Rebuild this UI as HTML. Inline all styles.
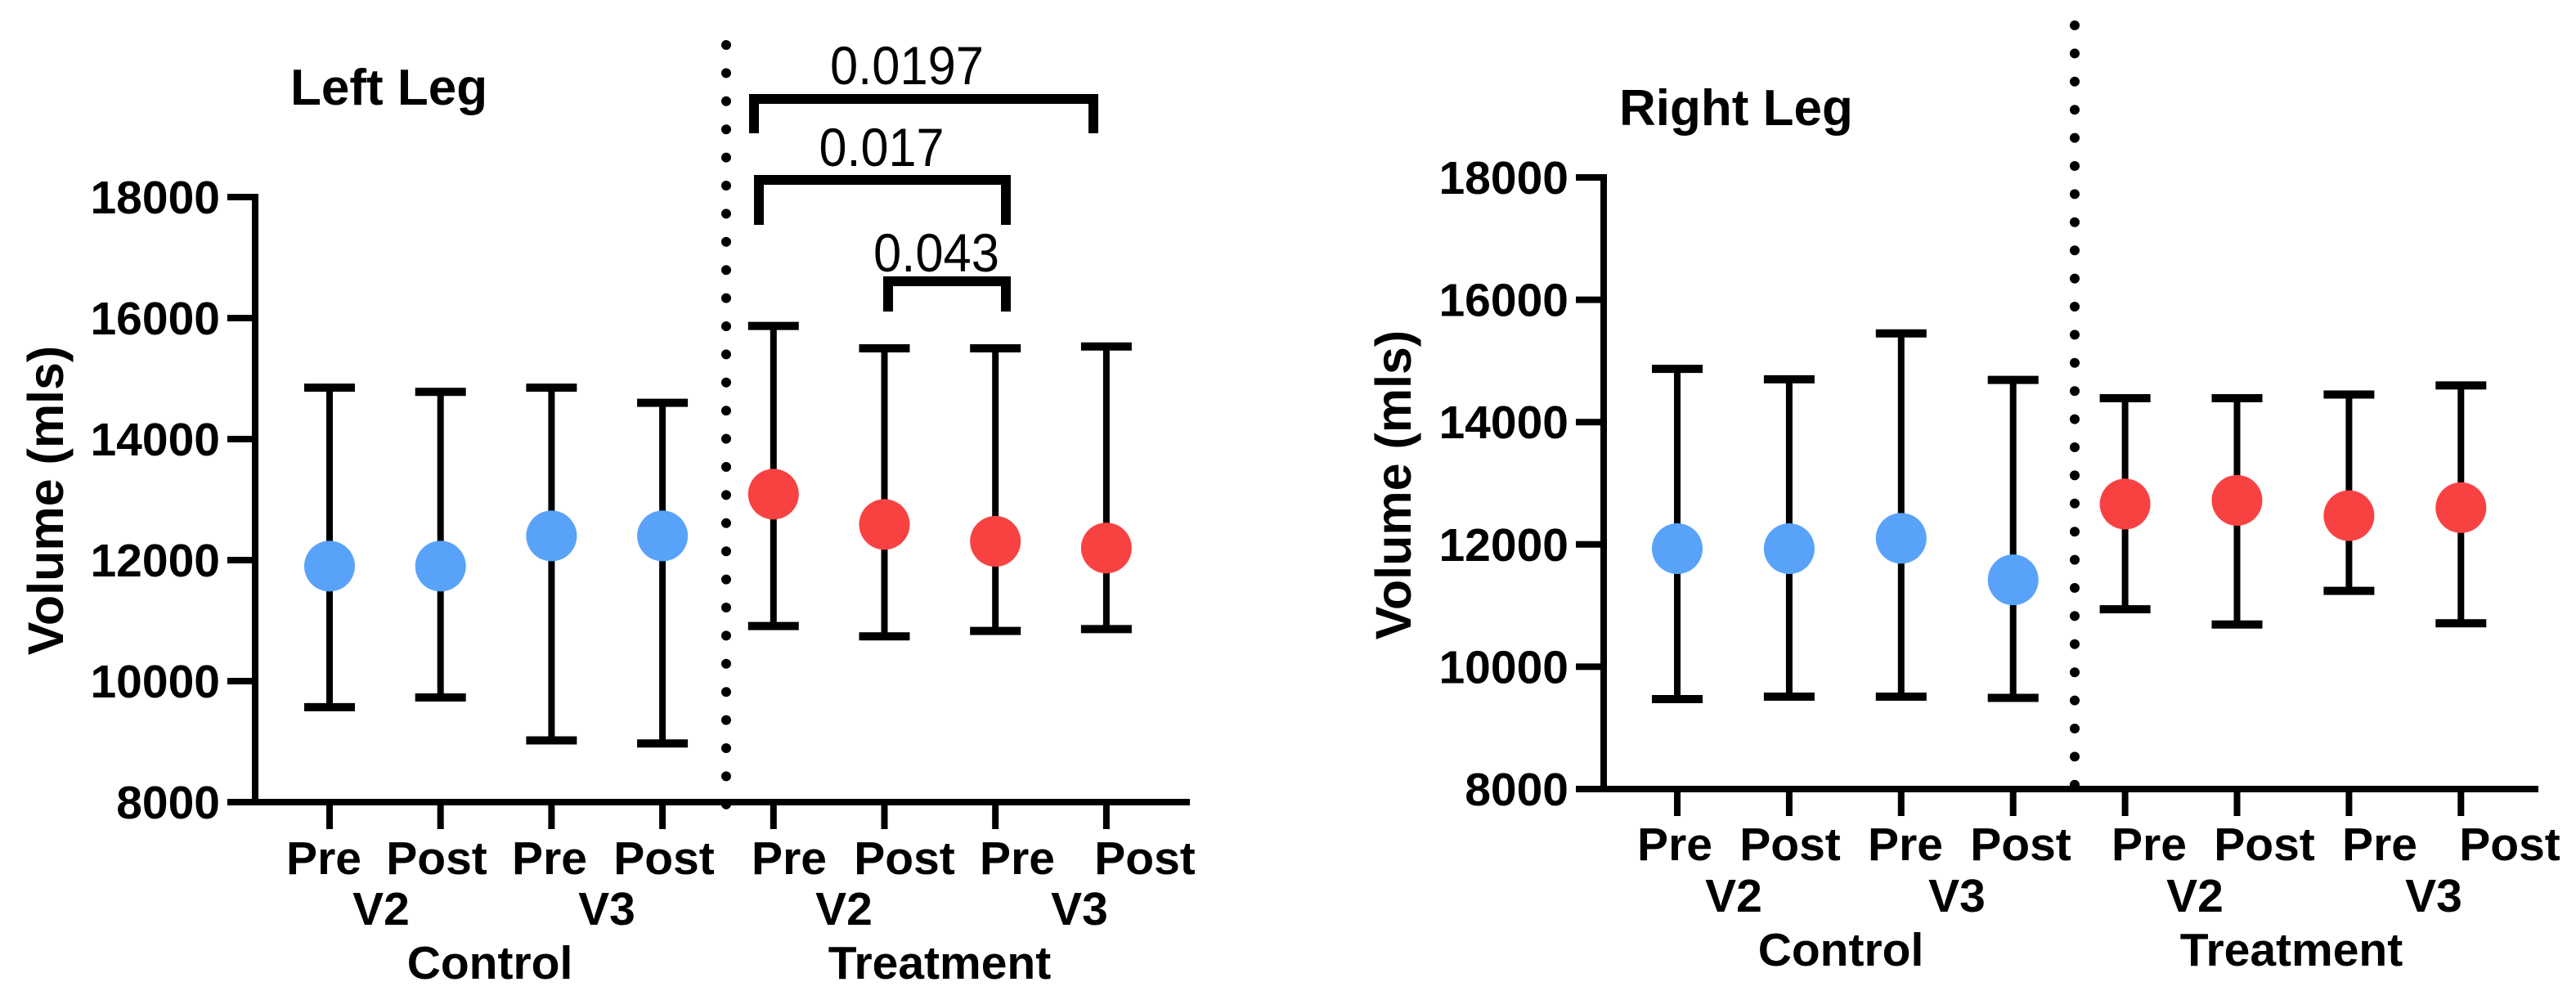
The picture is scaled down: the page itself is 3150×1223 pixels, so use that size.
<!DOCTYPE html>
<html><head><meta charset="utf-8"><style>
html,body{margin:0;padding:0;background:#fff;}
svg{display:block;font-family:"Liberation Sans",Arial,sans-serif;}
</style></head><body>
<svg id="chart" width="3150" height="1223" viewBox="0 0 3150 1223" xmlns="http://www.w3.org/2000/svg"></svg>
<script>
const categories = ["Pre","Post","Pre","Post","Pre","Post","Pre","Post"];
const visits = ["V2","V3","V2","V3"];
const groups = ["Control","Treatment"];
const yTicks = [8000,10000,12000,14000,16000,18000];
const leftMean = [11900,11900,12400,12400,13090,12590,12310,12200];
const leftUpper = [14850,14780,14850,14600,15870,15500,15500,15530];
const leftLower = [9570,9730,9020,8970,10910,10740,10830,10860];
const rightMean = [11930,11930,12100,11420,12660,12720,12470,12600];
const rightUpper = [14870,14700,15450,14690,14390,14390,14450,14600];
const rightLower = [9470,9510,9510,9490,10940,10690,11240,10710];
const sigLabels = ["0.0197","0.017","0.043"];
const sigFrom = [4,4,5];
const sigTo = [7,6,6];

const NS="http://www.w3.org/2000/svg";
const svg=document.getElementById('chart');
function mk(tag,attrs,parent,txt){const e=document.createElementNS(NS,tag);for(const k in attrs)e.setAttribute(k,attrs[k]);if(txt!==undefined)e.textContent=txt;(parent||svg).appendChild(e);return e;}

const panels=[
 {name:'left',title:'Left Leg',titleX:355,titleY:128,axisX:312,axisEnd:1455,y8:981,y18:241,x0:403,dx:135.7,divX:888,divTop:55,divBot:985,
  mean:leftMean,upper:leftUpper,lower:leftLower,ytitleX:77,ytitleY:612,tickRight:269,
  catX:[396,534,672,812,965,1106,1244,1400],row1:1069,visX:[466,742,1032,1320],row2:1131,grpX:[599,1149],row3:1197},
 {name:'right',title:'Right Leg',titleX:1980,titleY:153,axisX:1961,axisEnd:3104,y8:965,y18:217,x0:2051,dx:136.9,divX:2537,divTop:31,divBot:992,
  mean:rightMean,upper:rightUpper,lower:rightLower,ytitleX:1725,ytitleY:593,tickRight:1918,
  catX:[2048,2189,2330,2471,2628,2769,2910,3069],row1:1052,visX:[2120,2393,2684,2976],row2:1115,grpX:[2251,2802],row3:1181}
];

panels.forEach(p=>{
  const g=mk('g',{});
  
  
  const y=v=>p.y8+(v-8000)*(p.y18-p.y8)/10000;
  const x=i=>p.x0+i*p.dx;
  const t=mk('text',{x:p.titleX,y:p.titleY,'font-size':62,'font-weight':'bold'},g,p.title);
  
  
  // y axis
  const ya=mk('line',{x1:p.axisX,y1:y(18000)-4,x2:p.axisX,y2:y(8000)+4,stroke:'#000','stroke-width':8},g);
  
  
  yTicks.forEach(v=>{
    mk('line',{x1:p.axisX-34,y1:y(v),x2:p.axisX,y2:y(v),stroke:'#000','stroke-width':8},g);
    const tl=mk('text',{x:p.tickRight,y:y(v)+20,'font-size':57,'font-weight':'bold','text-anchor':'end'},g,String(v));
    
    
  });
  const yt=mk('text',{x:p.ytitleX,y:p.ytitleY,'font-size':61,'font-weight':'bold','text-anchor':'middle',transform:`rotate(-90 ${p.ytitleX} ${p.ytitleY})`},g,'Volume (mls)');
  
  
  // x axis
  const xa=mk('line',{x1:p.axisX-4,y1:y(8000),x2:p.axisEnd,y2:y(8000),stroke:'#000','stroke-width':8},g);
  
  
  categories.forEach((c,i)=>{
    mk('line',{x1:x(i),y1:y(8000),x2:x(i),y2:y(8000)+33,stroke:'#000','stroke-width':8},g);
    const cl=mk('text',{x:p.catX[i],y:p.row1,'font-size':57,'font-weight':'bold','text-anchor':'middle'},g,c);
    
    
  });
  visits.forEach((v,i)=>{
    const vl=mk('text',{x:p.visX[i],y:p.row2,'font-size':57,'font-weight':'bold','text-anchor':'middle'},g,v);
    
    
  });
  groups.forEach((v,i)=>{
    const gl=mk('text',{x:p.grpX[i],y:p.row3,'font-size':57,'font-weight':'bold','text-anchor':'middle'},g,v);
    
    
  });
  // divider
  const dv=mk('line',{x1:p.divX,y1:p.divTop,x2:p.divX,y2:p.divBot,stroke:'#000','stroke-width':12,'stroke-linecap':'round','stroke-dasharray':'0 34.4'},g);
  
  
  // error bars & points
  p.mean.forEach((m,i)=>{
    const cx=x(i);
    const eb=mk('g',{},g);
    
    
    mk('line',{x1:cx,y1:y(p.upper[i]),x2:cx,y2:y(p.lower[i]),stroke:'#000','stroke-width':8},eb);
    mk('line',{x1:cx-31,y1:y(p.upper[i]),x2:cx+31,y2:y(p.upper[i]),stroke:'#000','stroke-width':10},eb);
    mk('line',{x1:cx-31,y1:y(p.lower[i]),x2:cx+31,y2:y(p.lower[i]),stroke:'#000','stroke-width':10},eb);
    const dot=mk('circle',{cx:cx,cy:y(m),r:31,fill:i<4?'#58a2fa':'#f84242'},g);
    
    
  });
  if(p.name==='left'){
    const tops=[121,220,344], bots=[163,275,381], labY=[103,203,332];
    sigLabels.forEach((s,k)=>{
      const x1=x(sigFrom[k])-22+(k===2?-10:0)+ (k===0?-8:0), x2=x(sigTo[k])+ (k===0?-16:14)+ (k===0?0:0);
      const bx1=[922,928,1086][k], bx2=[1337,1230,1230][k];
      const br=mk('path',{d:`M${bx1} ${bots[k]} V${tops[k]} H${bx2} V${bots[k]}`,fill:'none',stroke:'#000','stroke-width':12},g);
      
      
      const sl=mk('text',{x:[1109,1078,1145][k],y:labY[k],'font-size':66,'text-anchor':'middle',textLength:[188,153,154][k],lengthAdjust:'spacingAndGlyphs'},g,s);
      
      
    });
  }
});
</script>
</body></html>
